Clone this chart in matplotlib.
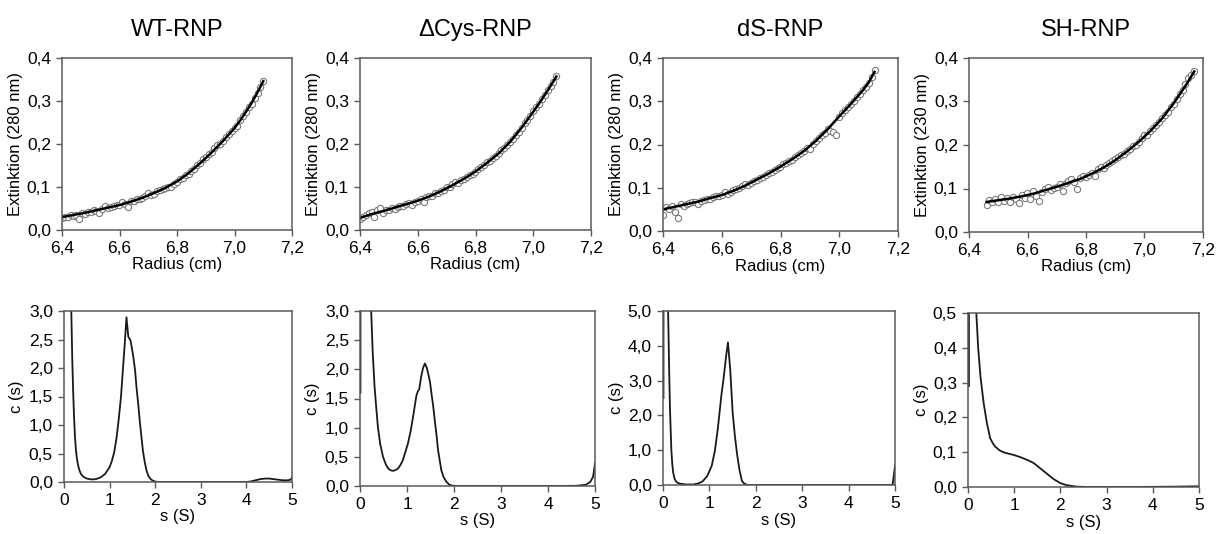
import matplotlib
matplotlib.use("Agg")
import matplotlib.pyplot as plt
from matplotlib.ticker import FuncFormatter, MultipleLocator

plt.rcParams['font.family'] = ['Liberation Sans', 'DejaVu Sans']

titles = ["WT-RNP", "\u0394Cys-RNP", "dS-RNP", "SH-RNP"]
ylabels_top = ["Extinktion (280 nm)", "Extinktion (280 nm)", "Extinktion (280 nm)", "Extinktion (230 nm)"]

# ---------------- top row: raw data (open circles) and fit (line) ----------------
wt_r = [6.40, 6.41, 6.42, 6.43, 6.44, 6.45, 6.46, 6.47, 6.48, 6.49, 6.50, 6.51, 6.52, 6.53, 6.54, 6.55,
        6.56, 6.57, 6.58, 6.59, 6.60, 6.61, 6.62, 6.63, 6.64, 6.65, 6.66, 6.67, 6.68, 6.69, 6.70, 6.71,
        6.72, 6.73, 6.74, 6.75, 6.76, 6.77, 6.78, 6.79, 6.80, 6.81, 6.82, 6.83, 6.84, 6.85, 6.86, 6.87,
        6.88, 6.89, 6.90, 6.91, 6.92, 6.93, 6.94, 6.95, 6.96, 6.97, 6.98, 6.99, 7.00, 7.01, 7.02, 7.03,
        7.04, 7.05, 7.06, 7.07, 7.08, 7.09, 7.10]
wt_a = [.029, .031, .030, .034, .033, .036, .026, .039, .038, .041, .042, .047, .044, .040, .049, .056,
        .051, .053, .056, .057, .059, .064, .060, .053, .067, .068, .071, .072, .074, .078, .087, .082,
        .084, .090, .093, .095, .097, .101, .099, .108, .112, .118, .121, .127, .131, .138, .143, .150,
        .156, .165, .170, .177, .182, .190, .197, .201, .208, .216, .224, .231, .238, .243, .256, .266,
        .274, .285, .294, .308, .319, .333, .347]
wt_fit_r = [6.40, 6.44, 6.48, 6.52, 6.56, 6.60, 6.64, 6.68, 6.72, 6.76, 6.80, 6.84, 6.88, 6.92, 6.96,
            7.00, 7.02, 7.04, 7.06, 7.08, 7.10]
wt_fit_a = [.030, .035, .040, .046, .052, .058, .066, .075, .086, .098, .113, .132, .155, .180, .207,
            .237, .255, .275, .296, .320, .346]

dc_r = [6.40, 6.41, 6.42, 6.43, 6.44, 6.45, 6.46, 6.47, 6.48, 6.49, 6.50, 6.51, 6.52, 6.53, 6.54, 6.55,
        6.56, 6.57, 6.58, 6.59, 6.60, 6.61, 6.62, 6.63, 6.64, 6.65, 6.66, 6.67, 6.68, 6.69, 6.70, 6.71,
        6.72, 6.73, 6.74, 6.75, 6.76, 6.77, 6.78, 6.79, 6.80, 6.81, 6.82, 6.83, 6.84, 6.85, 6.86, 6.87,
        6.88, 6.89, 6.90, 6.91, 6.92, 6.93, 6.94, 6.95, 6.96, 6.97, 6.98, 6.99, 7.00, 7.01, 7.02, 7.03,
        7.04, 7.05, 7.06, 7.07, 7.08]
dc_a = [.026, .030, .035, .040, .043, .030, .047, .050, .040, .046, .047, .050, .049, .054, .055, .056,
        .061, .062, .057, .066, .068, .071, .066, .076, .079, .080, .085, .086, .091, .094, .099, .100,
        .106, .112, .110, .116, .119, .123, .128, .131, .136, .141, .147, .150, .157, .160, .168, .172,
        .178, .185, .191, .198, .205, .212, .222, .229, .237, .248, .255, .266, .276, .285, .293, .305,
        .313, .325, .336, .345, .358]
dc_fit_r = [6.40, 6.44, 6.48, 6.52, 6.56, 6.60, 6.64, 6.68, 6.72, 6.76, 6.80, 6.84, 6.88, 6.92, 6.96,
            7.00, 7.02, 7.04, 7.06, 7.08]
dc_fit_a = [.028, .037, .044, .052, .060, .068, .078, .090, .104, .119, .136, .156, .178, .205, .238,
            .275, .294, .314, .335, .357]

ds_r = [6.40, 6.41, 6.42, 6.43, 6.44, 6.45, 6.46, 6.47, 6.48, 6.49, 6.50, 6.51, 6.52, 6.53, 6.54, 6.55,
        6.56, 6.57, 6.58, 6.59, 6.60, 6.61, 6.62, 6.63, 6.64, 6.65, 6.66, 6.67, 6.68, 6.69, 6.70, 6.71,
        6.72, 6.73, 6.74, 6.75, 6.76, 6.77, 6.78, 6.79, 6.80, 6.81, 6.82, 6.83, 6.84, 6.85, 6.86, 6.87,
        6.88, 6.89, 6.90, 6.91, 6.92, 6.93, 6.94, 6.95, 6.96, 6.97, 6.98, 6.99, 7.00, 7.01, 7.02, 7.03,
        7.04, 7.05, 7.06, 7.07, 7.08, 7.09, 7.10, 7.11, 7.12]
ds_a = [.038, .055, .052, .058, .045, .030, .062, .058, .062, .064, .066, .066, .062, .070, .071, .074,
        .073, .078, .080, .081, .084, .090, .086, .091, .095, .097, .100, .104, .108, .107, .112, .115,
        .119, .122, .125, .130, .133, .137, .141, .146, .149, .154, .157, .161, .165, .171, .176, .180,
        .186, .192, .190, .202, .209, .215, .221, .227, .236, .232, .228, .222, .263, .272, .279, .287,
        .294, .301, .310, .317, .326, .333, .343, .356, .372]
ds_fit_r = [6.40, 6.44, 6.48, 6.52, 6.56, 6.60, 6.64, 6.68, 6.72, 6.76, 6.80, 6.84, 6.88, 6.92, 6.96,
            7.00, 7.04, 7.08, 7.10, 7.12]
ds_fit_a = [.050, .056, .062, .068, .076, .083, .093, .105, .119, .133, .149, .166, .185, .208, .235,
            .265, .294, .325, .343, .368]

sh_r = [6.46, 6.47, 6.48, 6.49, 6.50, 6.51, 6.52, 6.53, 6.54, 6.55, 6.56, 6.57, 6.58, 6.59, 6.60, 6.61,
        6.62, 6.63, 6.64, 6.65, 6.66, 6.67, 6.68, 6.69, 6.70, 6.71, 6.72, 6.73, 6.74, 6.75, 6.76, 6.77,
        6.78, 6.79, 6.80, 6.81, 6.82, 6.83, 6.84, 6.85, 6.86, 6.87, 6.88, 6.89, 6.90, 6.91, 6.92, 6.93,
        6.94, 6.95, 6.96, 6.97, 6.98, 6.99, 7.00, 7.01, 7.02, 7.03, 7.04, 7.05, 7.06, 7.07, 7.08, 7.09,
        7.10, 7.11, 7.12, 7.13, 7.14, 7.15, 7.16, 7.17]
sh_a = [.062, .074, .068, .076, .070, .080, .072, .079, .068, .081, .075, .066, .084, .078, .089, .076,
        .095, .082, .071, .091, .100, .103, .097, .101, .104, .110, .094, .112, .118, .122, .116, .100,
        .125, .129, .126, .131, .136, .128, .144, .150, .146, .154, .159, .164, .168, .172, .178, .180,
        .187, .191, .198, .200, .208, .215, .223, .222, .233, .240, .247, .252, .263, .270, .276, .287,
        .294, .305, .318, .326, .340, .355, .360, .371]
sh_fit_r = [6.46, 6.50, 6.54, 6.58, 6.62, 6.66, 6.70, 6.74, 6.78, 6.82, 6.86, 6.90, 6.94, 6.98, 7.02,
            7.06, 7.10, 7.14, 7.17]
sh_fit_a = [.069, .073, .077, .082, .088, .096, .104, .113, .122, .134, .148, .165, .185, .207, .232,
            .261, .296, .336, .369]

# ---------------- bottom row: c(s) distributions ----------------
wt_s = [0.10, 0.16, 0.18, 0.20, 0.22, 0.24, 0.26, 0.28, 0.31, 0.34, 0.38, 0.43, 0.50, 0.60, 0.70,
        0.80, 0.90, 1.00, 1.05, 1.10, 1.15, 1.20, 1.25, 1.29, 1.33, 1.37, 1.41, 1.46, 1.52, 1.56,
        1.59, 1.63, 1.66, 1.70, 1.73, 1.77, 1.81, 1.85, 1.89, 1.95, 2.05, 3.0, 4.0,
        4.1, 4.2, 4.3, 4.4, 4.5, 4.6, 4.7, 4.8, 4.9, 4.97, 5.0]
wt_c = [6.0, 3.0, 2.2, 1.6, 1.15, 0.8, 0.58, 0.43, 0.29, 0.2, 0.13, 0.09, 0.06, 0.045, 0.05,
        0.08, 0.14, 0.26, 0.37, 0.52, 0.76, 1.1, 1.5, 1.95, 2.4, 2.89, 2.55, 2.48, 2.2, 1.95,
        1.66, 1.35, 1.08, 0.78, 0.55, 0.35, 0.2, 0.11, 0.06, 0.02, 0.0, 0.0, 0.0,
        0.01, 0.03, 0.05, 0.06, 0.06, 0.05, 0.04, 0.03, 0.03, 0.04, 0.08]

dc_s = [0.01, 0.015, 0.20, 0.23, 0.24, 0.27, 0.31, 0.35, 0.38, 0.43, 0.49, 0.55, 0.60, 0.65, 0.70,
        0.75, 0.81, 0.86, 0.91, 0.96, 1.02, 1.08, 1.13, 1.20, 1.23, 1.26, 1.30, 1.34, 1.38, 1.42,
        1.45, 1.49, 1.52, 1.56, 1.59, 1.63, 1.66, 1.70, 1.73, 1.78, 1.84, 1.89, 1.94, 2.05, 3.0,
        4.0, 4.6, 4.8, 4.9, 4.96, 5.0]
dc_c = [1.6, 20.0, 4.0, 3.2, 2.95, 2.3, 1.7, 1.3, 1.02, 0.72, 0.5, 0.37, 0.3, 0.27, 0.26,
        0.27, 0.3, 0.36, 0.44, 0.57, 0.73, 0.95, 1.19, 1.55, 1.62, 1.66, 1.87, 2.02, 2.1, 2.03,
        1.93, 1.78, 1.59, 1.35, 1.13, 0.86, 0.62, 0.42, 0.27, 0.15, 0.07, 0.03, 0.01, 0.0, 0.0,
        0.0, 0.003, 0.02, 0.07, 0.16, 0.39]

ds_s = [0.01, 0.015, 0.10, 0.11, 0.13, 0.15, 0.18, 0.20, 0.22, 0.25, 0.28, 0.32, 0.36, 0.50, 0.65,
        0.75, 0.85, 0.95, 1.05, 1.12, 1.18, 1.22, 1.26, 1.30, 1.36, 1.40, 1.45, 1.50, 1.55, 1.60,
        1.65, 1.70, 1.75, 1.82, 3.0, 4.9, 4.95, 5.0]
ds_c = [2.5, 30.0, 6.0, 5.0, 3.5, 2.2, 1.0, 0.6, 0.35, 0.18, 0.1, 0.06, 0.04, 0.015, 0.015,
        0.04, 0.1, 0.25, 0.55, 1.0, 1.6, 2.1, 2.6, 3.0, 3.7, 4.1, 3.3, 2.1, 1.4, 0.85,
        0.42, 0.12, 0.04, 0.0, 0.0, 0.0, 0.02, 0.55]

sh_s = [0.02, 0.025, 0.12, 0.15, 0.18, 0.22, 0.27, 0.34, 0.41, 0.48, 0.54, 0.59, 0.65, 0.70, 0.77,
        0.84, 0.99, 1.13, 1.28, 1.42, 1.56, 1.71, 1.85, 2.00, 2.14, 2.36, 2.57, 3.5, 4.5, 5.0]
sh_c = [0.29, 20.0, 1.2, 0.7, 0.5, 0.40, 0.317, 0.24, 0.183, 0.14, 0.125, 0.116, 0.109, 0.104, 0.100,
        0.097, 0.092, 0.086, 0.078, 0.069, 0.054, 0.038, 0.023, 0.011, 0.005, 0.001, 0.0, 0.0, 0.001, 0.002]

top_data = [(wt_r, wt_a, wt_fit_r, wt_fit_a), (dc_r, dc_a, dc_fit_r, dc_fit_a),
            (ds_r, ds_a, ds_fit_r, ds_fit_a), (sh_r, sh_a, sh_fit_r, sh_fit_a)]
bot_data = [(wt_s, wt_c), (dc_s, dc_c), (ds_s, ds_c), (sh_s, sh_c)]
bot_ymax = [3.0, 3.0, 5.0, 0.5]
bot_ystep = [0.5, 0.5, 1.0, 0.1]

W, H = 1223, 534
fig = plt.figure(figsize=(W / 100, H / 100), dpi=100)

def px_axes(x0, x1, y0, y1):
    return fig.add_axes([x0 / W, 1 - y1 / H, (x1 - x0) / W, (y1 - y0) / H])

top_boxes = [(62, 292, 58, 230), (360, 591, 58, 230), (663, 898, 58, 231), (969, 1203, 58, 232)]
bot_boxes = [(64, 292, 311, 482), (360, 595, 311, 486), (663, 895, 311, 485), (968, 1199, 313, 487)]

comma1 = FuncFormatter(lambda v, p: f"{v:.1f}".replace('.', ','))
intfmt = FuncFormatter(lambda v, p: f"{v:.0f}")
spc = '#5a5a5a'

def style(ax):
    for s in ax.spines.values():
        s.set_color(spc)
        s.set_linewidth(1.1)
    ax.tick_params(direction='out', length=4, width=1, color=spc, labelsize=12.5, pad=4)

for i in range(4):
    ax = px_axes(*top_boxes[i])
    r, a, fr, fa = top_data[i]
    ax.plot(r, a, linestyle='none', marker='o', markersize=4.5, markerfacecolor='white',
            markeredgecolor='#7a7a7a', markeredgewidth=0.8)
    ax.plot(fr, fa, color='black', lw=1.8)
    ax.set_xlim(6.4, 7.2)
    ax.set_ylim(0, 0.4)
    ax.xaxis.set_major_locator(MultipleLocator(0.2))
    ax.yaxis.set_major_locator(MultipleLocator(0.1))
    ax.xaxis.set_major_formatter(comma1)
    ax.yaxis.set_major_formatter(comma1)
    style(ax)
    ax.set_xlabel("Radius (cm)", fontsize=12, labelpad=1)
    ax.set_ylabel(ylabels_top[i], fontsize=12, labelpad=3)
    ax.set_title(titles[i], fontsize=17, pad=16)

for i in range(4):
    ax = px_axes(*bot_boxes[i])
    s, c = bot_data[i]
    ax.plot(s, c, color='#1a1a1a', lw=1.3)
    ax.set_xlim(0, 5)
    ax.set_ylim(0, bot_ymax[i])
    ax.xaxis.set_major_locator(MultipleLocator(1))
    ax.yaxis.set_major_locator(MultipleLocator(bot_ystep[i]))
    ax.xaxis.set_major_formatter(intfmt)
    ax.yaxis.set_major_formatter(comma1)
    style(ax)
    ax.set_xlabel("s (S)", fontsize=12, labelpad=1)
    ax.set_ylabel("c (s)", fontsize=12, labelpad=3)

fig.savefig("out.png", dpi=100)
